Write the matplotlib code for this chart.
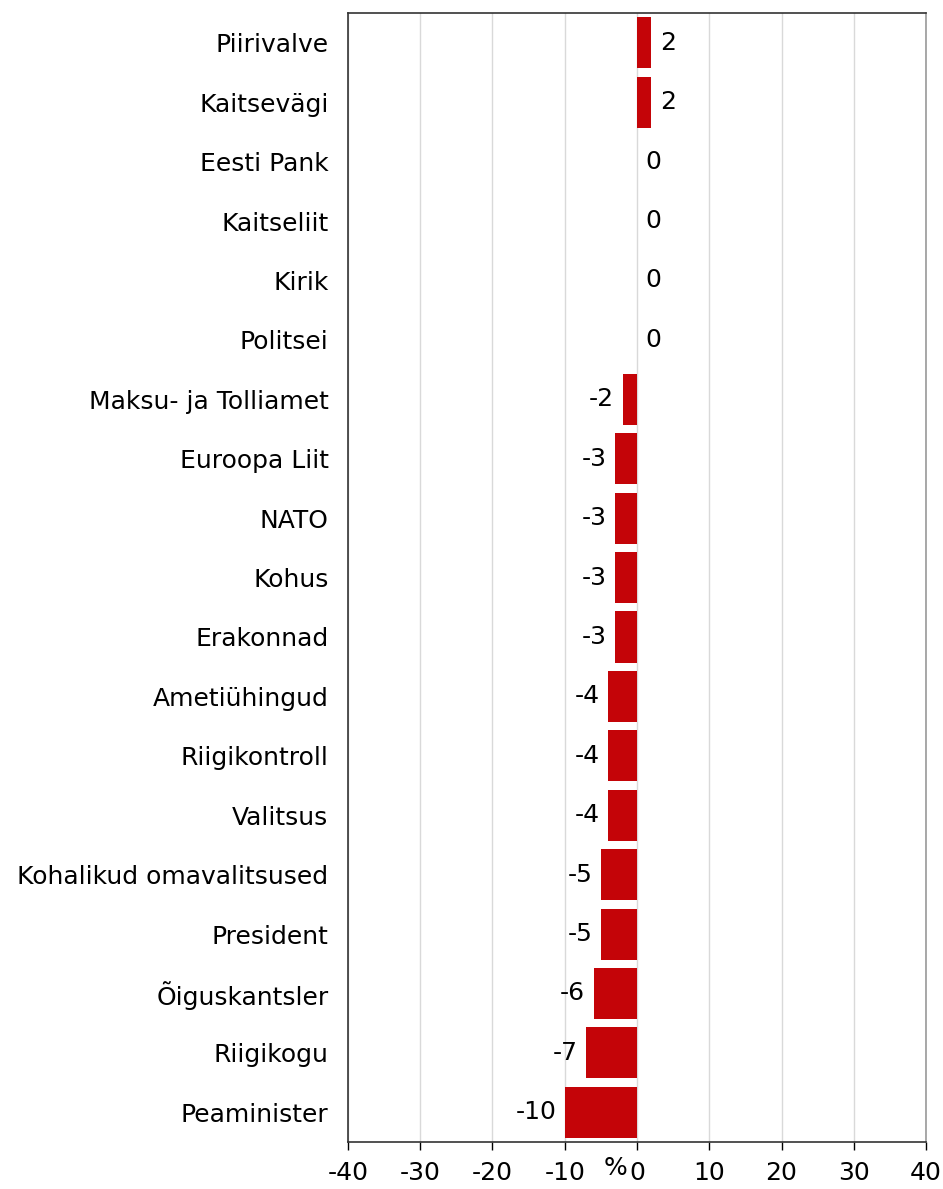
import matplotlib
matplotlib.use("Agg")
import matplotlib.pyplot as plt

categories = [
    "Piirivalve", "Kaitsevägi", "Eesti Pank", "Kaitseliit", "Kirik", "Politsei",
    "Maksu- ja Tolliamet", "Euroopa Liit", "NATO", "Kohus", "Erakonnad",
    "Ametiühingud", "Riigikontroll", "Valitsus", "Kohalikud omavalitsused",
    "President", "Õiguskantsler", "Riigikogu", "Peaminister",
]
values = [2, 2, 0, 0, 0, 0, -2, -3, -3, -3, -3, -4, -4, -4, -5, -5, -6, -7, -10]
xticks = [-40, -30, -20, -10, 0, 10, 20, 30, 40]

FS = 18
plt.rcParams['font.family'] = ['DejaVu Sans']
fig = plt.figure(figsize=(9.43, 11.89), dpi=100)
ax = fig.add_axes([0.369, 0.0395, 0.613, 0.9495])

pos = list(range(len(categories)))[::-1]
ax.barh(pos, values, height=0.86, color='#C40408', zorder=3)

for y, v in zip(pos, values):
    if v >= 0:
        ax.annotate(str(v), xy=(v, y), xytext=(6, 0), textcoords='offset points',
                    va='center', ha='left', fontsize=FS)
    else:
        ax.annotate(str(v), xy=(v, y), xytext=(-6, 0), textcoords='offset points',
                    va='center', ha='right', fontsize=FS)

ax.set_yticks(pos)
ax.set_yticklabels(categories, fontsize=FS)
ax.set_ylim(-0.5, len(categories) - 0.5)
ax.set_xlim(-40, 40)
ax.set_xticks(xticks)
ax.set_xticklabels([str(t) for t in xticks], fontsize=FS)
ax.tick_params(axis='y', length=0, pad=14)
ax.tick_params(axis='x', length=6, width=1, direction='out', pad=8)
ax.grid(axis='x', color='#d9d9d9', linewidth=1, zorder=0)
for s in ax.spines.values():
    s.set_color('#333333')
    s.set_linewidth(1.2)
ax.spines['right'].set_color('#999999')

ax.annotate("%", xy=(-3, -0.5), xytext=(0, -10), textcoords='offset points',
            ha='center', va='top', fontsize=FS)

fig.savefig("out.png", dpi=100)
plt.close(fig)
